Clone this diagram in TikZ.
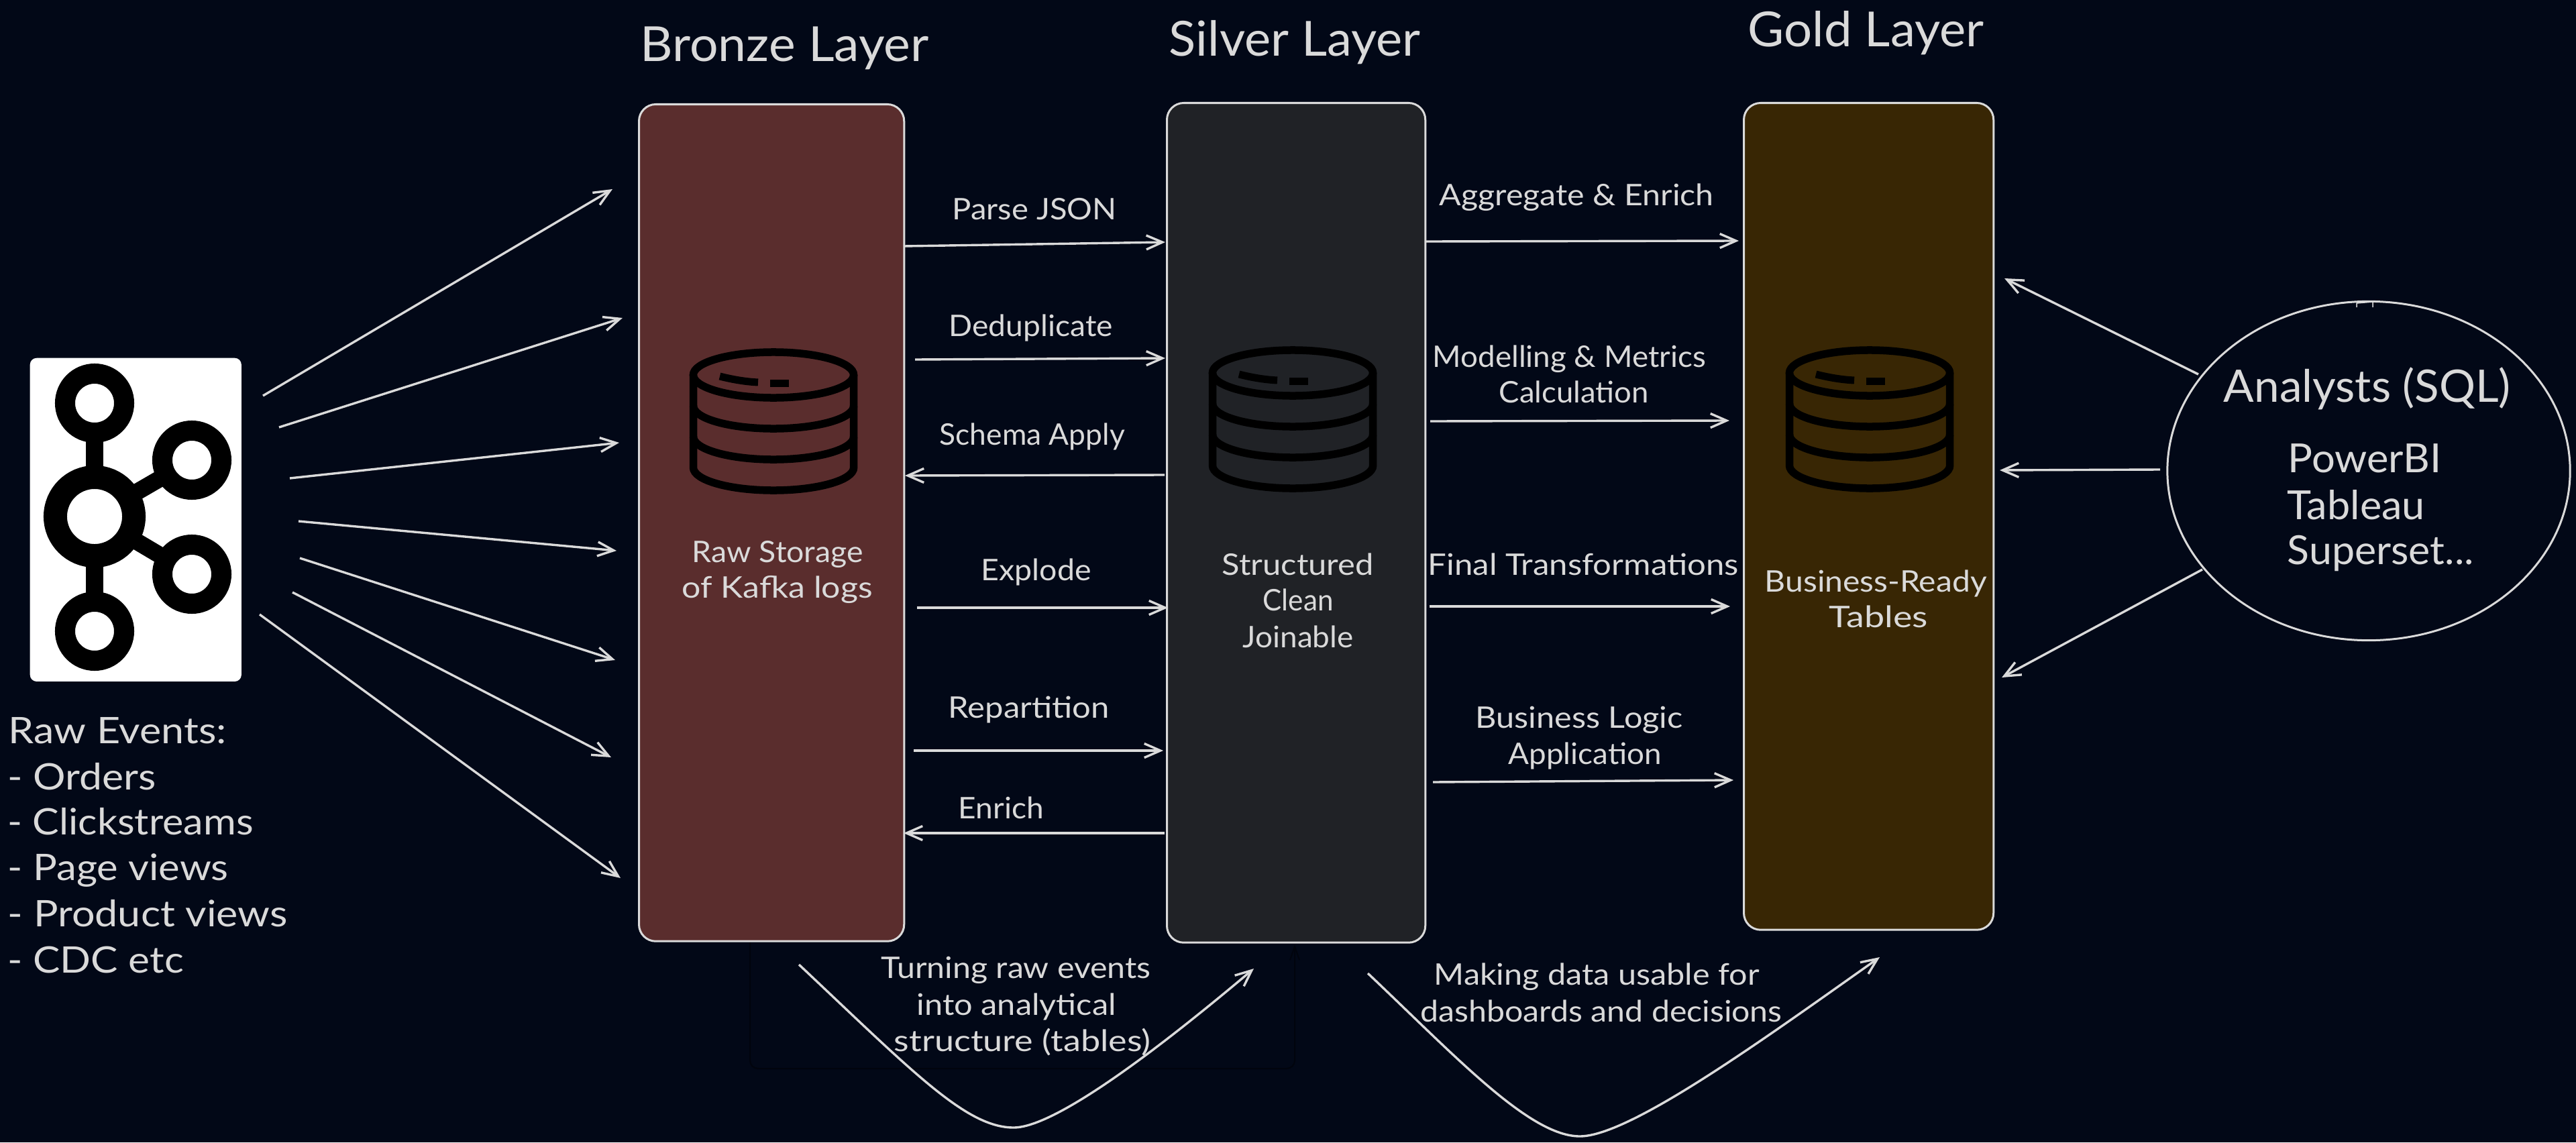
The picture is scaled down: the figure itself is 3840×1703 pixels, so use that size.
\documentclass[tikz,border=0pt]{standalone}
\usepackage{fontspec}
\usepackage{graphicx}
\setmainfont{Lato}
\usetikzlibrary{arrows.meta,shapes.geometric}
\definecolor{bgdark}{HTML}{020817}
\definecolor{ink}{HTML}{DADADA}
\definecolor{bronzefill}{HTML}{5A2D2D}
\definecolor{silverfill}{HTML}{202226}
\definecolor{goldfill}{HTML}{382604}
\definecolor{faintink}{HTML}{01040D}
\tikzset{
  conn/.style={draw=ink,line width=0.034cm,-{Straight Barb[length=0.24cm,width=0.21cm]}},
  curvearrow/.style={conn},
  faintline/.style={draw=faintink,line width=0.02cm,rounded corners=0.12cm},
  layerbox/.style={draw=ink,line width=0.03cm,rounded corners=0.25cm,inner sep=0pt,anchor=north west},
  txt/.style={text=ink,inner sep=0pt,anchor=base west},
  dbline/.style={draw=black,line width=0.115cm,line cap=butt},
  kring/.style={draw=black,fill=white},
  kbar/.style={draw=black,line width=0.25cm},
}
\newcommand\lbl[6]{%
  \pgfmathsetlengthmacro\lw{(#4-#2)*0.01cm}%
  \node[txt] (#1) at (#2,#3) {\resizebox{\lw}{\height}{\fontsize{#5}{#5}\selectfont #6}};}
\newcommand\arr[3]{%
  \coordinate (#1s) at (#2);\coordinate (#1e) at (#3);
  \draw[conn] (#1s) -- (#1e);}
\newcommand\dbicon[2]{%
  \begin{scope}[shift={(#1,#2)}]
    \draw[dbline] (0,559) ellipse [x radius=1.195cm,y radius=0.34cm];
    \draw[dbline] (-119.5,559) -- (-119.5,697) arc[start angle=180,end angle=360,x radius=1.195cm,y radius=0.34cm] -- (119.5,559);
    \draw[dbline] (-119.5,605) arc[start angle=180,end angle=360,x radius=1.195cm,y radius=0.34cm];
    \draw[dbline] (-119.5,651) arc[start angle=180,end angle=360,x radius=1.195cm,y radius=0.34cm];
    \draw[draw=black,line width=0.11cm] (-80,561) .. controls (-60,566) and (-42,569) .. (-23,570);
    \fill[black] (-5,566) rectangle (23,577);
  \end{scope}}
\begin{document}
\begin{tikzpicture}[x=0.01cm,y=-0.01cm]
\fill[bgdark] (0,0) rectangle (3840,1703);
\useasboundingbox (0,0) rectangle (3840,1703);

% faint elbow under the bronze box
\coordinate (fa) at (1118,1403);
\coordinate (fb) at (1118,1593);
\coordinate (fc) at (1930,1593);
\coordinate (fd) at (1930,1408);
\draw[faintline,-{Straight Barb[length=0.2cm,width=0.14cm]}] (fa) -- (fb) -- (fc) -- (fd);

% layer boxes
\node[layerbox,fill=bronzefill,minimum width=3.95cm,minimum height=12.47cm] (bronze) at (951,154) {};
\node[layerbox,fill=silverfill,minimum width=3.85cm,minimum height=12.51cm] (silver) at (1738,152) {};
\node[layerbox,fill=goldfill,minimum width=3.72cm,minimum height=12.32cm] (gold) at (2598,152) {};

\dbicon{1153}{0}
\dbicon{1927}{-3}
\dbicon{2787}{-3}

% kafka icon
\node[fill=white,rounded corners=0.1cm,inner sep=0pt,anchor=north west,minimum width=3.15cm,minimum height=4.82cm] (kafka) at (44,533) {};
\coordinate (kc) at (141,770);
\coordinate (kt) at (141,601);
\coordinate (kb) at (141,941);
\coordinate (kr) at (286,686);
\coordinate (ks) at (286,856);
\draw[kbar] (kt) -- (kb);
\draw[kbar] (kc) -- (kr);
\draw[kbar] (kc) -- (ks);
\node[kring,circle,line width=0.35cm,minimum size=1.17cm,inner sep=0pt] (kcn) at (kc) {};
\node[kring,circle,line width=0.3cm,minimum size=0.88cm,inner sep=0pt] (ktn) at (kt) {};
\node[kring,circle,line width=0.3cm,minimum size=0.88cm,inner sep=0pt] (kbn) at (kb) {};
\node[kring,circle,line width=0.3cm,minimum size=0.88cm,inner sep=0pt] (krn) at (kr) {};
\node[kring,circle,line width=0.3cm,minimum size=0.88cm,inner sep=0pt] (ksn) at (ks) {};

% analysts
\node[ellipse,draw=ink,line width=0.03cm,inner sep=0pt,minimum width=6cm,minimum height=5.05cm] (analysts) at (3531,702) {};
\coordinate (na) at (3513,458);
\coordinate (nb) at (3513,452);
\coordinate (nc) at (3537,450);
\coordinate (nd) at (3537,458);
\draw[draw=ink,line width=0.015cm] (na) -- (nb) -- (nc) -- (nd);

% kafka to bronze
\arr{ka}{392,590}{913,282}
\arr{kb}{416,637}{928,474}
\arr{kc}{432,713}{923,660}
\arr{kd}{445,777}{919,821}
\arr{ke}{447,832}{917,984}
\arr{kf}{436,883}{911,1129}
\arr{kg}{387,916}{925,1309}

% bronze / silver
\arr{ba}{1347,367}{1737,361}
\arr{bb}{1364,536}{1737,534}
\arr{bc}{1736,708}{1349,709}
\arr{bd}{1367,906}{1741,906}
\arr{be}{1362,1119}{1734,1119}
\arr{bf}{1736,1242}{1347,1242}

% silver / gold
\arr{sa}{2126,360}{2592,359}
\arr{sb}{2132,628}{2578,627}
\arr{sc}{2131,904}{2579,904}
\arr{sd}{2136,1166}{2584,1163}

% analysts to gold
\arr{aa}{3277,558}{2988,415}
\arr{ab}{3220,700}{2981,701}
\arr{ac}{3283,849}{2984,1010}

% swooping curves
\coordinate (cas) at (1191,1438);
\coordinate (cab) at (1511,1681);
\coordinate (cae) at (1869,1444);
\draw[curvearrow] (cas) .. controls (1361,1598) and (1440,1681) .. (cab) .. controls (1580,1681) and (1761,1535) .. (cae);
\coordinate (cbs) at (2039,1451);
\coordinate (cbb) at (2355,1694);
\coordinate (cbe) at (2802,1427);
\draw[curvearrow] (cbs) .. controls (2170,1575) and (2280,1694) .. (cbb) .. controls (2430,1694) and (2632,1547) .. (cbe);

% titles
\lbl{t1}{954}{91}{1384}{20.5}{Bronze Layer}
\lbl{t2}{1742}{84}{2117}{20.5}{Silver Layer}
\lbl{t3}{2605}{70}{2957}{20.5}{Gold Layer}

% connector labels
\lbl{l1}{1419}{327}{1664}{12.6}{Parse JSON}
\lbl{l2}{1414}{501}{1658}{12.6}{Deduplicate}
\lbl{l3}{1400}{663}{1676}{12.6}{Schema Apply}
\lbl{l4}{1462}{865}{1626}{12.6}{Explode}
\lbl{l5}{1413}{1070}{1653}{12.6}{Repartition}
\lbl{l6}{1428}{1220}{1555}{12.6}{Enrich}
\lbl{m1}{2145}{307}{2554}{12.6}{Aggregate \& Enrich}
\lbl{m2}{2135}{547}{2542}{12.6}{Modelling \& Metrics}
\lbl{m3}{2234}{600}{2457}{12.6}{Calculation}
\lbl{m4}{2128}{857}{2591}{12.6}{Final Transformations}
\lbl{m5}{2199}{1085}{2508}{12.6}{Business Logic}
\lbl{m6}{2248}{1139}{2476}{12.6}{Application}

% box texts
\lbl{b1}{1031}{838}{1286}{12.6}{Raw Storage}
\lbl{b2}{1016}{891}{1300}{12.6}{of Kafka logs}
\lbl{s1}{1821}{857}{2047}{12.6}{Structured}
\lbl{s2}{1882}{910}{1987}{12.6}{Clean}
\lbl{s3}{1852}{965}{2017}{12.6}{Joinable}
\lbl{g1}{2630}{882}{2961}{12.6}{Business-Ready}
\lbl{g2}{2726}{935}{2873}{12.6}{Tables}

% raw events
\lbl{r0}{12}{1108}{337}{15.5}{Raw Events:}
\lbl{r1}{11}{1177}{232}{15.5}{- Orders}
\lbl{r2}{11}{1244}{377}{15.5}{- Clickstreams}
\lbl{r3}{11}{1312}{340}{15.5}{- Page views}
\lbl{r4}{11}{1381}{428}{15.5}{- Product views}
\lbl{r5}{11}{1450}{273}{15.5}{- CDC etc}

% analysts text
\lbl{a0}{3314}{599}{3742}{19}{Analysts (SQL)}
\lbl{a1}{3410}{704}{3639}{17}{PowerBI}
\lbl{a2}{3409}{774}{3614}{17}{Tableau}
\lbl{a3}{3409}{841}{3687}{17}{Superset...}

% bottom texts
\lbl{c1}{1313}{1458}{1715}{12.6}{Turning raw events}
\lbl{c2}{1366}{1513}{1663}{12.6}{into analytical}
\lbl{c3}{1332}{1567}{1715}{12.6}{structure (tables)}
\lbl{d1}{2137}{1468}{2622}{12.6}{Making data usable for}
\lbl{d2}{2117}{1523}{2656}{12.6}{dashboards and decisions}
\end{tikzpicture}
\end{document}
